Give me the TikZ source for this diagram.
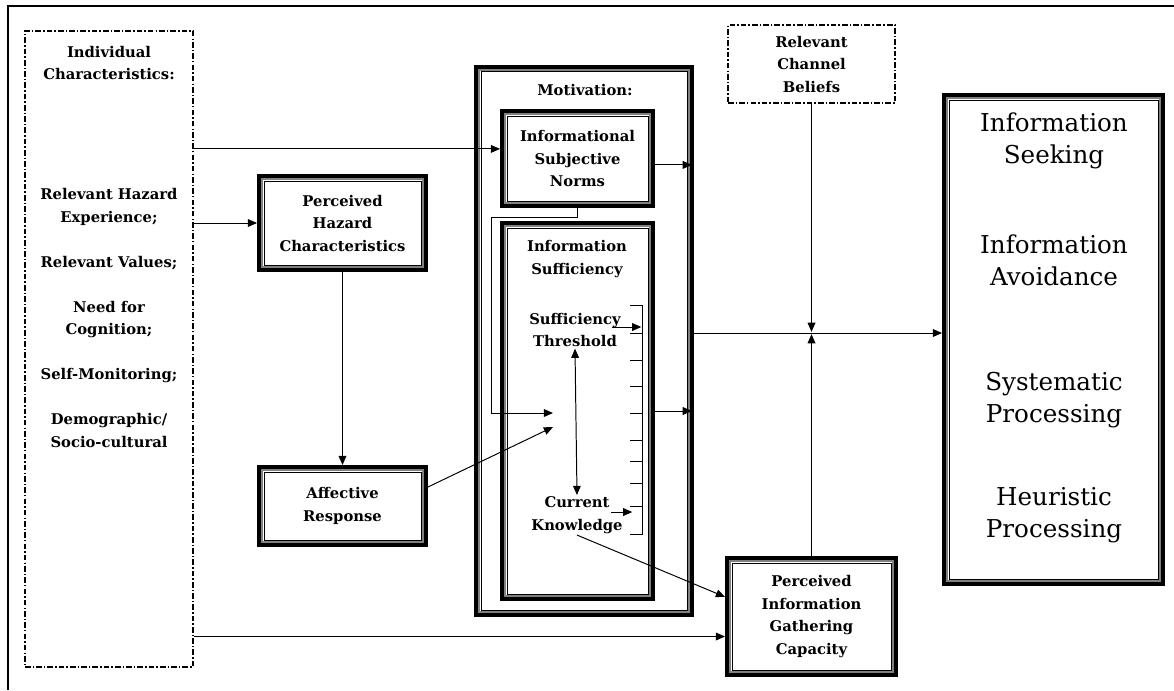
\documentclass[tikz,border=0pt]{standalone}
\usepackage{fontspec}
\setmainfont{DejaVu Serif}
\usetikzlibrary{arrows.meta,positioning}

\tikzset{
  lbl/.style={font=\bfseries\fontsize{10.5}{16}\selectfont, align=center, inner sep=1pt},
  biglbl/.style={font=\fontsize{17.5}{23}\selectfont, align=center},
  tribox/.style={draw, line width=2.8pt, fill=white, inner sep=0pt, lbl},
  dashbox/.style={draw, line width=0.9pt, dash pattern=on 4pt off 1.5pt on 1pt off 1.5pt, inner sep=0pt, lbl},
  arr/.style={line width=0.7pt, -{Triangle[length=6.5pt,width=5.5pt]}},
  darr/.style={line width=0.7pt, {Triangle[length=6.5pt,width=5.5pt]}-{Triangle[length=6.5pt,width=5.5pt]}},
  link/.style={line width=0.7pt},
}

\begin{document}
\begin{tikzpicture}[x=0.25mm, y=-0.25mm]
\useasboundingbox (0,0) rectangle (1174,690);

% frame
\draw[line width=2pt] (8,690) -- (8,6) -- (1174,6);

% boxes
\node[dashbox, minimum width=42mm, minimum height=159mm] (indiv) at (109,349) {};
\node[dashbox, minimum width=41.75mm, minimum height=19.5mm] (beliefs) at (811.5,64) {Relevant\\Channel\\Beliefs};
\node[tribox, minimum width=41.75mm, minimum height=23.5mm] (hazard) at (342.5,223) {Perceived\\Hazard\\Characteristics};
\node[tribox, minimum width=41.75mm, minimum height=19.5mm] (affect) at (342.5,506) {Affective\\Response};
\node[tribox, minimum width=54mm, minimum height=137mm] (motiv) at (584,341) {};
\node[tribox, minimum width=37.75mm, minimum height=23.75mm] (norms) at (577.5,158.5) {Informational\\Subjective\\Norms};
\node[tribox, minimum width=37.75mm, minimum height=94mm] (suff) at (577.5,411) {};
\node[tribox, minimum width=42.25mm, minimum height=29.25mm] (capac) at (811.5,616.5) {Perceived\\Information\\Gathering\\Capacity};
\node[tribox, minimum width=54.75mm, minimum height=122.25mm] (outcome) at (1053.5,339.5) {};

% inner lines of the heavy boxes
\foreach \b in {hazard,affect,motiv,norms,suff,capac,outcome}{
  \draw[gray, line width=0.9pt] ([shift={(3.6pt,-3.6pt)}]\b.north west) rectangle ([shift={(-3.6pt,3.6pt)}]\b.south east);
  \draw[line width=0.6pt] ([shift={(4.9pt,-4.9pt)}]\b.north west) rectangle ([shift={(-4.9pt,4.9pt)}]\b.south east);
}

% texts
\node[lbl] (indivtitle) at (109,63) {Individual\\Characteristics:};
\node[lbl] (indivlist) at (109,318) {Relevant Hazard\\Experience;\\[16pt]Relevant Values;\\[16pt]Need for\\Cognition;\\[16pt]Self-Monitoring;\\[16pt]Demographic/\\Socio-cultural};
\node[lbl] (motivtitle) at (585,90) {Motivation:};
\node[lbl] (sufftitle) at (577,259) {Information\\Sufficiency};
\node[lbl] (thresh) at (575,330) {Sufficiency\\Threshold};
\node[lbl] (know) at (577,515) {Current\\Knowledge};
\node[biglbl] (seek) at (1054,141) {Information\\Seeking};
\node[biglbl] (avoid) at (1054,260) {Information\\Avoidance};
\node[biglbl] (syst) at (1054,400) {Systematic\\Processing};
\node[biglbl] (heur) at (1054,515) {Heuristic\\Processing};

% scale
\coordinate (scl) at (642,305);
\draw[link] (630,305) -| (642,534) -- (630,534);
\foreach \y in {333,360,386,413,440,461,483,506}
  \draw[link] (630,\y) -- (642,\y);

% connectors
\coordinate (normsin) at ([yshift=2.4mm]norms.west);
\coordinate (capin) at ([yshift=-5mm]capac.west);
\coordinate (capin2) at ([yshift=4.9mm]capac.west);
\coordinate (normsend) at (553,413);
\coordinate (affend) at (553,427);
\coordinate (normsout) at ([yshift=-1.6mm]norms.east);
\coordinate (motout) at ([yshift=2mm]motiv.east);
\coordinate (joint) at (beliefs.south |- motout);
\coordinate (throut) at ([xshift=-2.5mm, yshift=0.75mm]thresh.east);
\coordinate (knowout) at ([xshift=-3.25mm, yshift=0.75mm]know.east);

\draw[arr] (indiv.east |- normsin) -- (normsin);
\draw[arr] (indiv.east |- hazard.west) -- (hazard.west);
\draw[arr] (indiv.east |- capin) -- (capin);
\draw[arr] (hazard.south) -- (affect.north);
\draw[arr] ([yshift=4.75mm]affect.east) -- (affend);
\draw[arr] (norms.south) |- (491,217) |- (normsend);
\draw[arr, shorten >=1.5pt] (normsout) -- (normsout -| motiv.east);
\draw[arr, shorten >=1.5pt] (suff.east) -- (suff.east -| motiv.east);
\draw[arr] (motout) -- (motout -| outcome.west);
\draw[arr, shorten >=0.8pt] (beliefs.south) -- (joint);
\draw[arr, shorten >=0.8pt] (capac.north) -- (joint);
\draw[arr] (know.south) -- (capin2);
\draw[arr, shorten >=0.5pt] (throut) -- (throut -| scl);
\draw[arr] (knowout) -- ++(5.25mm,0);
\draw[darr] (thresh.south) -- (know.north);

\end{tikzpicture}
\end{document}
